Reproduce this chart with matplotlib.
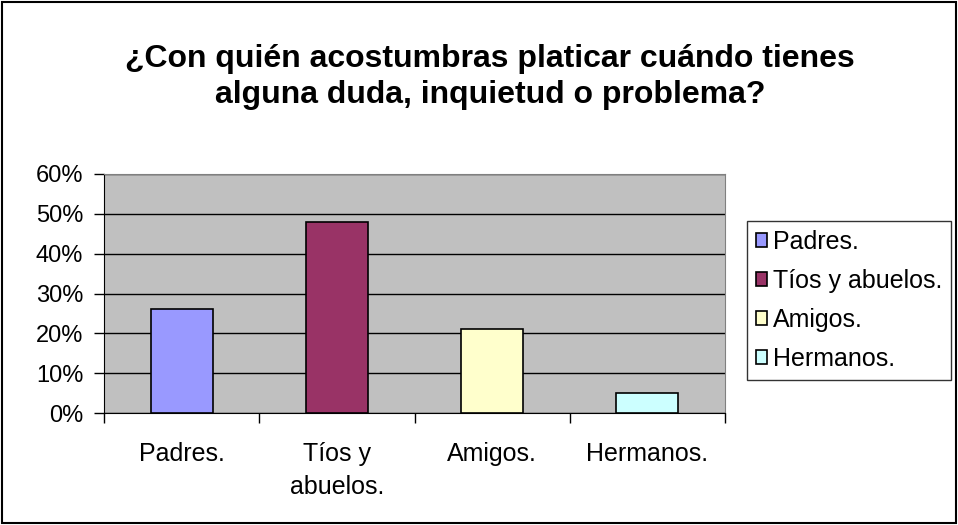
import matplotlib.pyplot as plt
from matplotlib.patches import Rectangle

plt.rcParams['font.family'] = ['Liberation Sans', 'DejaVu Sans']

# Data
categories = ['Padres.', 'Tíos y abuelos.', 'Amigos.', 'Hermanos.']
tick_labels = ['Padres.', 'Tíos y\nabuelos.', 'Amigos.', 'Hermanos.']
values = [26, 48, 21, 5]
colors = ['#9999FF', '#993366', '#FFFFCC', '#CCFFFF']
yticks = [0, 10, 20, 30, 40, 50, 60]

fig = plt.figure(figsize=(9.58, 5.25), dpi=100)
ax = fig.add_axes([104 / 958, 1 - 413 / 525, (725 - 104) / 958, (413 - 174) / 525])
ax.set_facecolor('#C0C0C0')

x = range(len(categories))
bars = ax.bar(x, values, width=0.4, color=colors, edgecolor='black', linewidth=1.2, zorder=3)

ax.set_xlim(-0.5, len(categories) - 0.5)
ax.set_ylim(0, 60)
ax.set_yticks(yticks)
ax.set_yticklabels([f'{v}%' for v in yticks], fontsize=17)
ax.grid(axis='y', color='black', linewidth=1, zorder=1)

# category boundary ticks
ax.set_xticks([i - 0.5 for i in range(len(categories) + 1)])
ax.set_xticklabels([])
ax.set_xticks(list(x), minor=True)
ax.set_xticklabels(tick_labels, minor=True, fontsize=18, linespacing=1.45)
ax.tick_params(axis='x', which='major', length=7, width=1, direction='out')
ax.tick_params(axis='x', which='minor', length=0, pad=21)
ax.tick_params(axis='y', length=7, width=1, direction='out', pad=8)

for side in ['top', 'right']:
    ax.spines[side].set_color('#808080')
for side in ['left', 'bottom']:
    ax.spines[side].set_color('black')

fig.text(490 / 958, 1 - 77 / 525, '¿Con quién acostumbras platicar cuándo tienes\nalguna duda, inquietud o problema?',
         ha='center', va='center', fontsize=23, fontweight='bold', linespacing=1.3)

leg = fig.legend(bars, categories, loc='upper left', bbox_to_anchor=(747 / 958, 1 - 221 / 525),
                 fontsize=18, frameon=True, fancybox=False, edgecolor='black',
                 handlelength=0.45, handleheight=0.45, handletextpad=0.25,
                 labelspacing=0.6, borderpad=0.35, borderaxespad=0)
leg.get_frame().set_linewidth(1)

# outer chart border
fig.patches.append(Rectangle((0.002, 0.003), 0.996, 0.994, transform=fig.transFigure,
                             fill=False, edgecolor='black', linewidth=1.5))

fig.savefig('out.png', dpi=100)
